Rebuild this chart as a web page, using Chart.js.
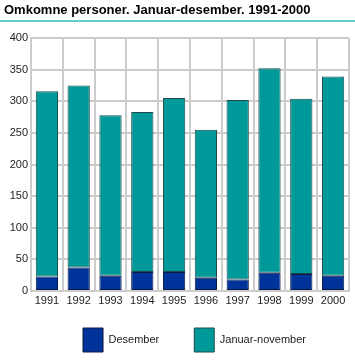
<!DOCTYPE html>
<html>
<head>
<meta charset="utf-8">
<script src="https://cdn.jsdelivr.net/npm/chart.js@4.4.0/dist/chart.umd.min.js"></script>
<style>
  html, body { margin: 0; padding: 0; background: #fff; }
  #wrap { position: relative; width: 355px; height: 361px; }
  #title { position: absolute; left: 4px; top: 2px; font: bold 13px "Liberation Sans", Arial, sans-serif; color: #000; white-space: nowrap; }
  #rule { position: absolute; left: 0; top: 20px; width: 355px; height: 2px; background: #66cccc; }
  canvas { position: absolute; left: 0; top: 0; }
</style>
</head>
<body>
<div id="wrap">
  <canvas id="c" width="355" height="361"></canvas>
  <div id="title">Omkomne personer. Januar-desember. 1991-2000</div>
  <div id="rule"></div>
</div>
<script>
const years = ['1991','1992','1993','1994','1995','1996','1997','1998','1999','2000'];
const desember = [23, 37, 24, 30, 30, 21, 18, 29, 27, 24];
const januarNovember = [293, 288, 254, 253, 275, 234, 284, 323, 277, 315];
const seriesNames = ['Desember', 'Januar-november'];

const font = { family: '"Liberation Sans", Arial, sans-serif', size: 11 };

// Legend placement: horizontal spacing via labels.padding, fixed box height, then shift.
const legendPlace = {
  id: 'legendPlace',
  beforeLayout(chart) {
    const lg = chart.legend;
    if (lg && !lg._patched) {
      lg._patched = true;
      const origFit = lg.fit;
      lg.fit = function () { origFit.call(this); this.height = 46; };
    }
  },
  afterLayout(chart) {
    const lg = chart.legend;
    if (!lg) return;
    const dx = 20, dy = -16;
    lg.left += dx; lg.right += dx;
    lg.top += dy;
    lg.bottom = chart.height;
    lg.height = lg.bottom - lg.top;
    lg.adjustHitBoxes();
  }
};

new Chart(document.getElementById('c'), {
  type: 'bar',
  data: {
    labels: years,
    datasets: [
      { label: seriesNames[0], data: desember, backgroundColor: '#003399', borderColor: '#0a1a40', borderWidth: 1, borderSkipped: false },
      { label: seriesNames[1], data: januarNovember, backgroundColor: '#009999', borderColor: '#1f4a4a', borderWidth: 1, borderSkipped: false }
    ]
  },
  options: {
    responsive: false,
    animation: false,
    layout: { padding: { top: 38, right: 6, left: 0, bottom: 6 } },
    datasets: { bar: { barPercentage: 0.7, categoryPercentage: 1.0 } },
    scales: {
      x: {
        stacked: true,
        grid: { color: '#cccccc', lineWidth: 2, offset: true, drawTicks: false },
        border: { color: '#cccccc', width: 2 },
        ticks: { color: '#222', font: font, padding: 3, maxRotation: 0, autoSkip: false },
        afterFit: (s) => { s.height = 18; }
      },
      y: {
        stacked: true,
        min: 0, max: 400,
        ticks: { stepSize: 50, color: '#222', font: font, padding: 3 },
        grid: { color: '#cccccc', lineWidth: 2, drawTicks: false },
        border: { color: '#cccccc', width: 2 },
        afterFit: (s) => { s.width = 31; }
      }
    },
    plugins: {
      legend: {
        position: 'bottom',
        labels: { boxWidth: 20, boxHeight: 24, color: '#222', font: font, padding: 35 }
      },
      tooltip: { enabled: false }
    }
  },
  plugins: [legendPlace]
});
</script>
</body>
</html>
